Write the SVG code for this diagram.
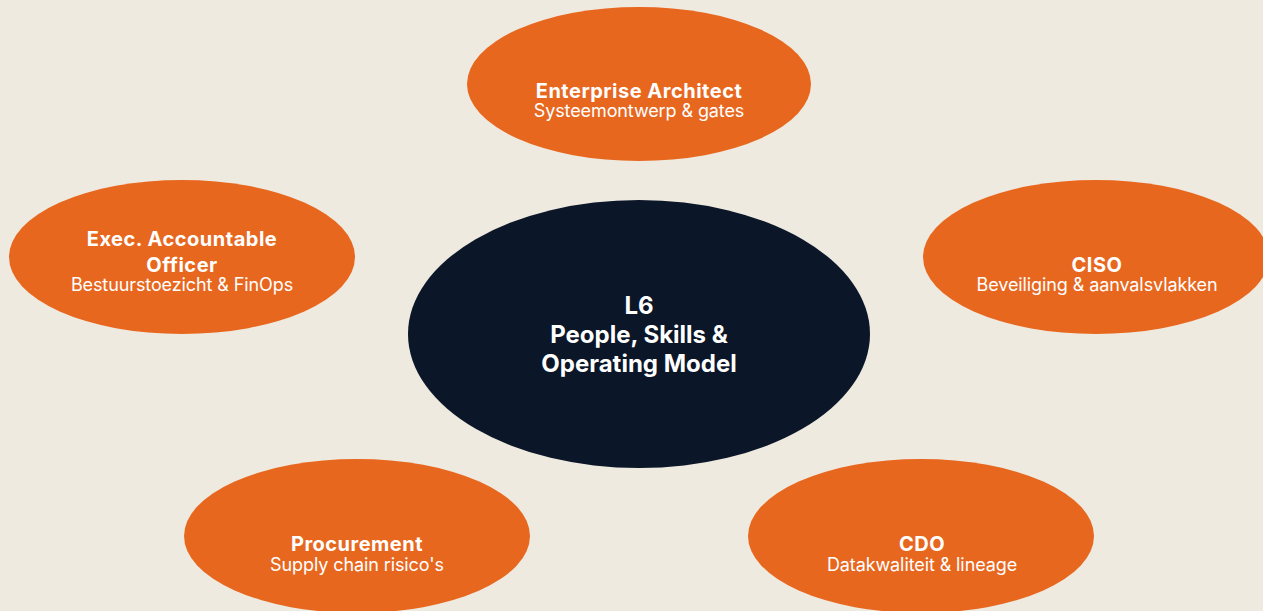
<svg xmlns="http://www.w3.org/2000/svg" width="1263" height="611" viewBox="0 0 1263 611">
<style>
.role{fill:#E8671F}
.core{fill:#0B1628}
text{font-family:"Inter","Noto Sans","Liberation Sans",sans-serif;fill:#FFFFFF;text-anchor:middle}
.t{font-size:20px;font-weight:700;letter-spacing:0.5px}
.s{font-size:18px;font-weight:400;letter-spacing:-0.1px}
.c{font-size:24px;font-weight:700}
</style>
<rect width="1263" height="611" fill="#EFEAE0"/>
<g id="connectors"></g>
<g id="core">
<ellipse class="core" cx="639" cy="334" rx="231" ry="134"/>
<text class="c" x="639" y="314">L6</text>
<text class="c" x="639" y="343">People, Skills &amp;</text>
<text class="c" x="639" y="372">Operating Model</text>
</g>
<g id="enterprise-architect">
<ellipse class="role" cx="639" cy="84" rx="172" ry="77"/>
<text class="t" x="639" y="98">Enterprise Architect</text>
<text class="s" x="639" y="117">Systeemontwerp &amp; gates</text>
</g>
<g id="exec-officer">
<ellipse class="role" cx="182" cy="257" rx="173" ry="77"/>
<text class="t" x="182" y="246">Exec. Accountable</text>
<text class="t" x="182" y="272">Officer</text>
<text class="s" x="182" y="291">Bestuurstoezicht &amp; FinOps</text>
</g>
<g id="ciso">
<ellipse class="role" cx="1096" cy="257" rx="173" ry="77"/>
<text class="t" x="1097" y="272">CISO</text>
<text class="s" x="1097" y="291">Beveiliging &amp; aanvalsvlakken</text>
</g>
<g id="procurement">
<ellipse class="role" cx="357" cy="536" rx="173" ry="77"/>
<text class="t" x="357" y="551">Procurement</text>
<text class="s" x="357" y="571">Supply chain risico's</text>
</g>
<g id="cdo">
<ellipse class="role" cx="921" cy="536" rx="173" ry="77"/>
<text class="t" x="922" y="551">CDO</text>
<text class="s" x="922" y="571">Datakwaliteit &amp; lineage</text>
</g>
</svg>
